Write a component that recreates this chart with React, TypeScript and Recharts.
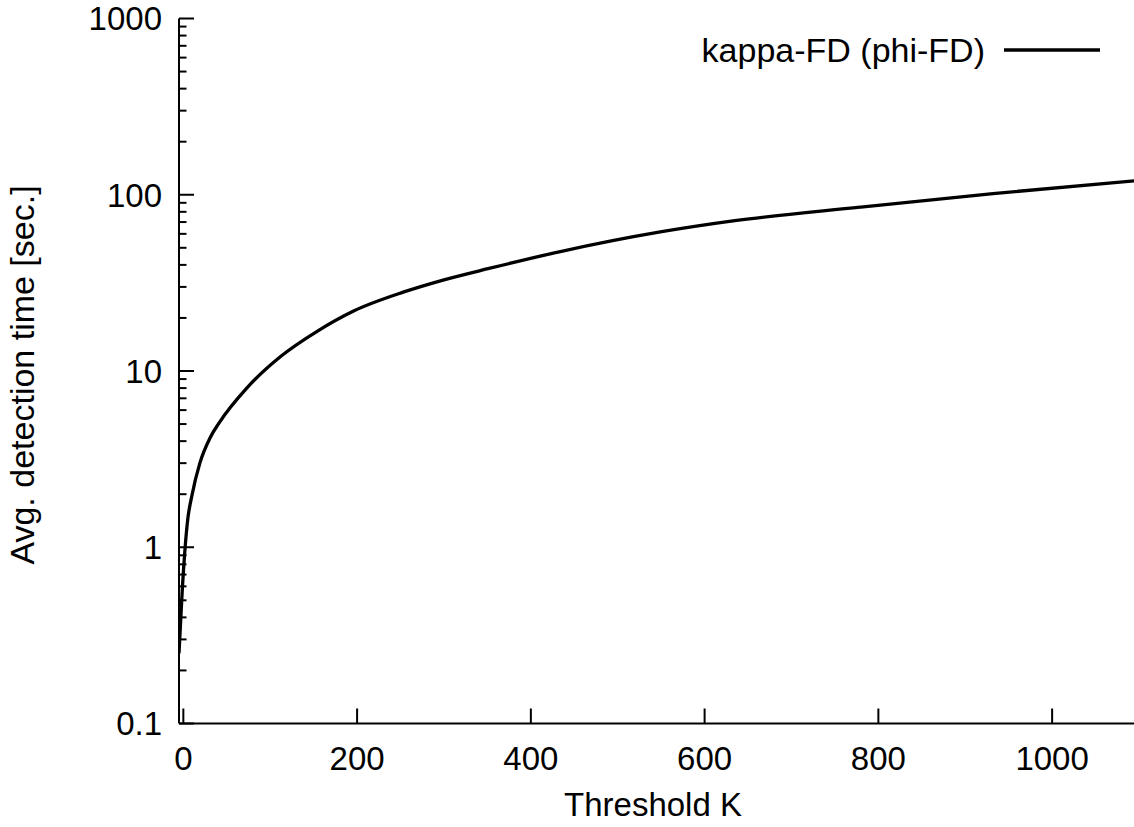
import React from "react";
import { LineChart, Line, XAxis, YAxis, Legend } from "recharts";

const thresholdK = [-5, -3, -1, 2, 5, 10, 19, 31, 42, 73, 113, 154, 196, 253, 299, 353, 434, 549, 637, 779, 932, 1100];
const detectionTime = [0.25, 0.39, 0.6, 0.99, 1.43, 1.98, 3.0, 4.2, 5.15, 8.0, 12.2, 16.8, 21.9, 28.0, 32.8, 38.3, 47.6, 61.5, 71.5, 85, 101.5, 120.7];

const xTicks = [0, 200, 400, 600, 800, 1000];
const yMajorTicks = [0.1, 1, 10, 100, 1000];
const yMinorTicks = [
  0.2, 0.3, 0.4, 0.5, 0.6, 0.7, 0.8, 0.9,
  2, 3, 4, 5, 6, 7, 8, 9,
  20, 30, 40, 50, 60, 70, 80, 90,
  200, 300, 400, 500, 600, 700, 800, 900,
];
const yLabels = ["0.1", "1", "10", "100", "1000"];
const seriesName = "kappa-FD (phi-FD)";

const FONT = '"Liberation Sans", Arial, Helvetica, sans-serif';
const FS = 33;
const MAJOR = 15;
const MINOR = 7.5;

const chartData = thresholdK.map((k, i) => ({ k, time: detectionTime[i] }));
const yAllTicks = [...yMajorTicks, ...yMinorTicks].sort((a, b) => a - b);

const isMajor = (v: number) => yMajorTicks.some((m) => Math.abs(m - v) < 1e-9);

const LeftTick = ({ x, y, payload }: any) => {
  const major = isMajor(payload.value);
  const idx = yMajorTicks.findIndex((m) => Math.abs(m - payload.value) < 1e-9);
  return (
    <g>
      <line x1={x} x2={x + (major ? MAJOR : MINOR)} y1={y} y2={y} stroke="#000" strokeWidth={2} />
      {major && (
        <text x={x - 17} y={y + 11.8} textAnchor="end" fontSize={FS} fontFamily={FONT} fill="#000">
          {yLabels[idx]}
        </text>
      )}
    </g>
  );
};

const RightTick = ({ x, y, payload }: any) => {
  const major = isMajor(payload.value);
  return <line x1={x} x2={x - (major ? MAJOR : MINOR)} y1={y} y2={y} stroke="#000" strokeWidth={2} />;
};

const BottomTick = ({ x, y, payload }: any) => (
  <g>
    <line x1={x} x2={x} y1={y} y2={y - MAJOR} stroke="#000" strokeWidth={2} />
    <text x={x} y={y + 46} textAnchor="middle" fontSize={FS} fontFamily={FONT} fill="#000">
      {payload.value}
    </text>
  </g>
);

const TopTick = ({ x, y }: any) => (
  <line x1={x} x2={x} y1={y} y2={y + MAJOR} stroke="#000" strokeWidth={2} />
);

const XTitle = ({ viewBox }: any) => (
  <text
    x={viewBox.x + viewBox.width / 2 - 6}
    y={viewBox.y + 92}
    textAnchor="middle"
    fontSize={FS}
    fontFamily={FONT}
    fill="#000"
  >
    Threshold K
  </text>
);

const YTitle = ({ viewBox }: any) => {
  const cx = 34;
  const cy = viewBox.y + viewBox.height / 2 + 4;
  return (
    <text
      x={cx}
      y={cy}
      transform={`rotate(-90, ${cx}, ${cy})`}
      textAnchor="middle"
      fontSize={34}
      fontFamily={FONT}
      fill="#000"
    >
      Avg. detection time [sec.]
    </text>
  );
};

const renderLegend = () => (
  <div
    style={{
      display: "flex",
      justifyContent: "flex-end",
      alignItems: "center",
      height: 42,
      fontFamily: FONT,
      fontSize: 34,
      color: "#000",
    }}
  >
    <span style={{ marginRight: 19, lineHeight: "42px" }}>{seriesName}</span>
    <svg width={96} height={8}>
      <line x1={0} x2={96} y1={4} y2={4} stroke="#000" strokeWidth={3.3} />
    </svg>
  </div>
);

export default function App() {
  return (
    <div
      style={{
        position: "fixed",
        left: 0,
        top: 0,
        width: 1134,
        height: 827,
        overflow: "hidden",
        background: "#fff",
      }}
    >
      <LineChart width={1150} height={827} data={chartData} margin={{ top: 18.5, right: 11, bottom: 0, left: 0 }}>
        <XAxis
          dataKey="k"
          type="number"
          domain={[-5, 1100]}
          allowDataOverflow
          ticks={xTicks}
          interval={0}
          height={103.5}
          tickSize={0}
          tickMargin={0}
          tickLine={false}
          tick={<BottomTick />}
          axisLine={{ stroke: "#000", strokeWidth: 2 }}
          label={{ content: <XTitle /> } as any}
        />
        <XAxis
          xAxisId="top"
          orientation="top"
          dataKey="k"
          type="number"
          domain={[-5, 1100]}
          allowDataOverflow
          ticks={xTicks}
          interval={0}
          height={0}
          tickSize={0}
          tickMargin={0}
          tickLine={false}
          tick={<TopTick />}
          axisLine={{ stroke: "#000", strokeWidth: 2 }}
        />
        <YAxis
          scale="log"
          type="number"
          domain={[0.1, 1000]}
          allowDataOverflow
          ticks={yAllTicks}
          interval={0}
          width={179}
          tickSize={0}
          tickMargin={0}
          tickLine={false}
          tick={<LeftTick />}
          axisLine={{ stroke: "#000", strokeWidth: 2 }}
          label={{ content: <YTitle /> } as any}
        />
        <YAxis
          yAxisId="right"
          orientation="right"
          scale="log"
          type="number"
          domain={[0.1, 1000]}
          allowDataOverflow
          ticks={yAllTicks}
          interval={0}
          width={0}
          tickSize={0}
          tickMargin={0}
          tickLine={false}
          tick={<RightTick />}
          axisLine={{ stroke: "#000", strokeWidth: 2 }}
        />
        <Legend
          layout="horizontal"
          verticalAlign="middle"
          content={renderLegend}
          wrapperStyle={{ position: "absolute", top: 28.7, left: 0, width: 1100, height: 42 }}
        />
        <Line
          type="monotone"
          dataKey="time"
          name={seriesName}
          stroke="#000"
          strokeWidth={3.3}
          dot={false}
          isAnimationActive={false}
        />
      </LineChart>
    </div>
  );
}
